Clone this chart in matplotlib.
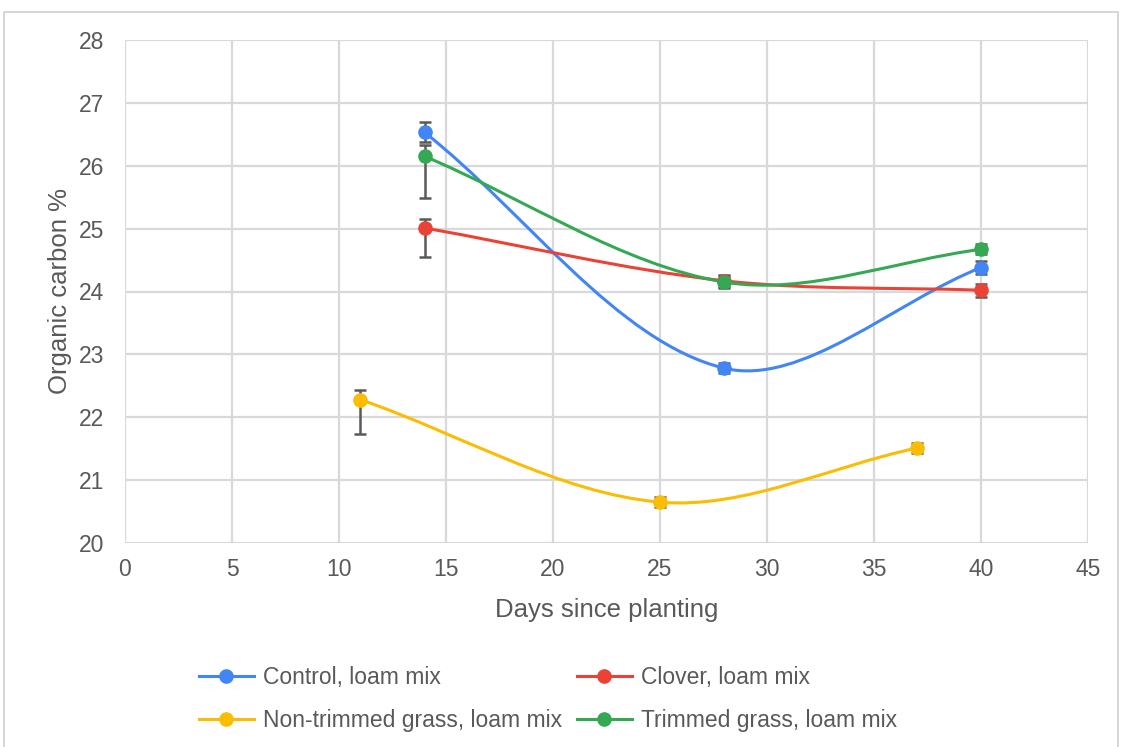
import matplotlib
matplotlib.use("Agg")
import matplotlib.pyplot as plt
import numpy as np
from matplotlib.path import Path
from matplotlib.patches import PathPatch, Rectangle

plt.rcParams['font.family'] = ['Liberation Sans', 'DejaVu Sans']

series_names = ["Control, loam mix", "Clover, loam mix",
                "Non-trimmed grass, loam mix", "Trimmed grass, loam mix"]
colors = ["#4285F4", "#EA4335", "#FBBC04", "#34A853"]

control_x = [14, 28, 40]
control_y = [26.53, 22.78, 24.38]
control_lo = [0.16, 0.08, 0.10]
control_hi = [0.16, 0.08, 0.10]

clover_x = [14, 28, 40]
clover_y = [25.01, 24.17, 24.02]
clover_lo = [0.46, 0.10, 0.10]
clover_hi = [0.14, 0.10, 0.10]

nontrim_x = [11, 25, 37]
nontrim_y = [22.28, 20.65, 21.51]
nontrim_lo = [0.55, 0.08, 0.08]
nontrim_hi = [0.16, 0.08, 0.08]

trim_x = [14, 28, 40]
trim_y = [26.15, 24.15, 24.67]
trim_lo = [0.67, 0.10, 0.08]
trim_hi = [0.18, 0.10, 0.08]

xticks = list(range(0, 46, 5))
yticks = list(range(20, 29, 1))

W, H = 1128, 747
fig = plt.figure(figsize=(W / 100, H / 100), dpi=100)
ax = fig.add_axes([125 / W, 1 - 543 / H, (1088 - 125) / W, (543 - 40) / H])
ax.set_xlim(0, 45)
ax.set_ylim(20, 28)
ax.set_xticks(xticks)
ax.set_yticks(yticks)
ax.grid(True, color="#d9d9d9", linewidth=1.6)
ax.set_axisbelow(True)
for s in ax.spines.values():
    s.set_visible(False)
ax.tick_params(length=0, labelsize=16.5, labelcolor="#595959")
ax.tick_params(axis='y', pad=15)
ax.tick_params(axis='x', pad=11)
ax.set_xlabel("Days since planting", fontsize=18.5, color="#595959", labelpad=12)
ax.set_ylabel("Organic carbon %", fontsize=18.5, color="#595959", labelpad=5)

# frame around the chart
fig.patches.append(Rectangle((4 / W, -0.01), (1118 - 4) / W, 1 - 12 / H + 0.01,
                             transform=fig.transFigure, fill=False,
                             edgecolor="#d0d0d0", linewidth=1.2))


def smooth_path(xs, ys):
    pts = ax.transData.transform(np.column_stack([xs, ys]))
    n = len(pts)
    verts = [pts[0]]
    codes = [Path.MOVETO]
    for i in range(n - 1):
        p1, p2 = pts[i], pts[i + 1]
        p0 = pts[i - 1] if i > 0 else p1
        p3 = pts[i + 2] if i + 2 < n else p2
        d12 = np.linalg.norm(p2 - p1)
        if i > 0:
            d01 = np.linalg.norm(p1 - p0)
            c1 = p1 + (p2 - p0) * d12 / (d01 + d12) / 3
        else:
            c1 = p1 + (p2 - p1) / 3
        if i + 2 < n:
            d23 = np.linalg.norm(p3 - p2)
            c2 = p2 - (p3 - p1) * d12 / (d12 + d23) / 3
        else:
            c2 = p2 - (p2 - p1) / 3
        verts += [c1, c2, p2]
        codes += [Path.CURVE4] * 3
    verts = ax.transData.inverted().transform(np.array(verts))
    return Path(verts, codes)


data = [
    (control_x, control_y, control_lo, control_hi),
    (clover_x, clover_y, clover_lo, clover_hi),
    (nontrim_x, nontrim_y, nontrim_lo, nontrim_hi),
    (trim_x, trim_y, trim_lo, trim_hi),
]

handles = []
for (xs, ys, lo, hi), c, name in zip(data, colors, series_names):
    ax.errorbar(xs, ys, yerr=[lo, hi], fmt='none', ecolor="#595959",
                elinewidth=1.8, capsize=4.5, capthick=1.8, zorder=2)
    ax.add_patch(PathPatch(smooth_path(xs, ys), facecolor='none',
                           edgecolor=c, linewidth=2.2, zorder=3))
    ax.plot(xs, ys, linestyle='none', marker='o', markersize=9.5,
            color=c, zorder=4)
    h, = ax.plot([], [], color=c, linewidth=2.2, marker='o', markersize=9.5,
                 label=name)
    handles.append(h)

# legend is filled column by column: order so rows read Control/Clover, Non-trimmed/Trimmed
order = [0, 2, 1, 3]
fig.legend(handles=[handles[i] for i in order], loc='upper left', ncol=2,
           bbox_to_anchor=(178 / W, 1 - 645 / H), frameon=False,
           fontsize=16.5, labelcolor="#595959", handlelength=2.4,
           handletextpad=0.4, columnspacing=0.65, labelspacing=0.88)

fig.savefig("out.png", dpi=100)
